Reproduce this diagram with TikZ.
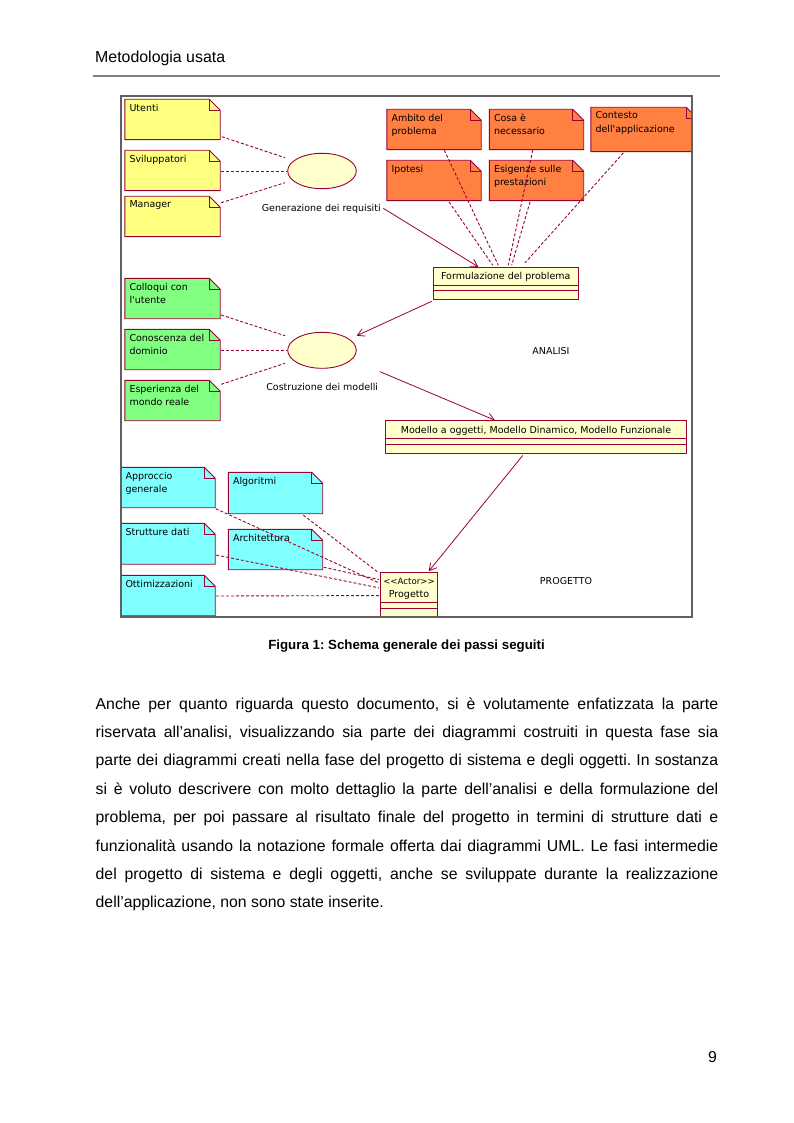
\documentclass[tikz,border=0pt]{standalone}
\usepackage{fontspec}
\setmainfont{Liberation Sans}
\newfontfamily\dgfont{DejaVu Sans}
\usetikzlibrary{arrows.meta,shapes.geometric}
\frenchspacing
\definecolor{border}{RGB}{153,0,51}
\definecolor{noteY}{RGB}{255,255,128}
\definecolor{noteO}{RGB}{255,128,64}
\definecolor{noteG}{RGB}{128,255,128}
\definecolor{noteC}{RGB}{128,255,255}
\definecolor{cls}{RGB}{255,255,204}
\definecolor{framec}{RGB}{96,96,96}
\tikzset{
  notebox/.style={rectangle, inner sep=0pt, draw=none},
  notetext/.style={anchor=north west, inner sep=0pt, align=left, font=\dgfont\fontsize{9.5}{13.3}\selectfont},
  dgtext/.style={inner sep=0pt, font=\dgfont\fontsize{9.5}{13.3}\selectfont},
  dep/.style={draw=border, line width=0.9pt, dash pattern=on 3pt off 2pt},
  assoc/.style={draw=border, line width=0.8pt, -{Straight Barb[length=7pt,width=8pt]}},
  usecase/.style={ellipse, draw=border, fill=cls, line width=0.9pt, inner sep=0pt},
  classbox/.style={rectangle, draw=border, fill=cls, line width=0.9pt, inner sep=0pt},
  bodyline/.style={anchor=base west, inner sep=0pt, font=\fontsize{15.8}{19}\selectfont},
}
% name, x1, y1, x2, y2, colour, text
\newcommand\mknote[7]{%
  \node[notebox, minimum width={(#4)-(#2)}, minimum height={(#5)-(#3)}] (#1) at ({((#2)+(#4))/2},{((#3)+(#5))/2}) {};
  \filldraw[fill=#6, draw=border, line width=0.9pt] (#1.north west) -- ([xshift=-11pt]#1.north east) -- ([yshift=-11pt]#1.north east) -- (#1.south east) -- (#1.south west) -- cycle;
  \draw[border, line width=0.9pt] ([xshift=-11pt]#1.north east) |- ([yshift=-11pt]#1.north east);
  \node[notetext] (#1-t) at ([shift={(4.5,4.3)}]#1.north west) {\rule{0pt}{7.2pt}#7};
}
\begin{document}
\begin{tikzpicture}[x=1pt,y=-1pt]
\useasboundingbox (0,0) rectangle (793,1123);
% header
\node[anchor=base west, inner sep=0pt, font=\fontsize{15.9}{19}\selectfont] (head) at (95,63) {Metodologia usata};
\draw[gray, line width=1.3pt] (93,76) -- (720,76);

\begin{scope}
\clip (121,96) rectangle (692,617);
\fill[white] (121,96) rectangle (692,617);
% yellow notes
\mknote{utenti}{125}{99.5}{220}{139.5}{noteY}{Utenti}
\mknote{svil}{125}{150.5}{220}{190.5}{noteY}{Sviluppatori}
\mknote{manager}{125}{196.5}{220}{236.5}{noteY}{Manager}
% orange notes
\mknote{ambito}{387}{109.5}{481}{149.5}{noteO}{Ambito del\\problema}
\mknote{cosa}{489.5}{109.5}{583.5}{149.5}{noteO}{Cosa è\\necessario}
\mknote{contesto}{591}{107.5}{697}{151.5}{noteO}{Contesto\\dell'applicazione}
\mknote{ipotesi}{387}{160.5}{481}{200.5}{noteO}{Ipotesi}
\mknote{esig}{489.5}{160.5}{583.5}{200.5}{noteO}{Esigenze sulle\\prestazioni}
% green notes
\mknote{colloqui}{125}{278.5}{220}{318.5}{noteG}{Colloqui con\\l'utente}
\mknote{conosc}{125}{329.5}{220}{369.5}{noteG}{Conoscenza del\\dominio}
\mknote{esper}{125}{380.5}{220}{420.5}{noteG}{Esperienza del\\mondo reale}
% cyan notes
\mknote{approccio}{121}{467.5}{215}{507.5}{noteC}{Approccio\\generale}
\mknote{strutture}{121}{523.5}{215}{564}{noteC}{Strutture dati}
\mknote{ottim}{121}{575.5}{215}{615.5}{noteC}{Ottimizzazioni}
\mknote{algo}{228.5}{472.5}{322.5}{513.5}{noteC}{Algoritmi}
\mknote{archit}{228.5}{529.5}{322.5}{569.5}{noteC}{Architettura}

% use cases
\node[usecase, minimum width=68.6pt, minimum height=35.4pt] (gen) at (322,171) {};
\node[dgtext, anchor=base] (gen-l) at (321.3,212) {Generazione dei requisiti};
\node[usecase, minimum width=68.6pt, minimum height=36pt] (cost) at (322,350.3) {};
\node[dgtext, anchor=base] (cost-l) at (322.2,390.7) {Costruzione dei modelli};

% class boxes
\node[classbox, minimum width=145pt, minimum height=32pt] (form) at (505.8,283.3) {};
\draw[border, line width=0.9pt] ([yshift=-18.4pt]form.north west) -- ([yshift=-18.4pt]form.north east);
\draw[border, line width=0.9pt] ([yshift=-24pt]form.north west) -- ([yshift=-24pt]form.north east);
\node[dgtext, anchor=base] (form-t) at ([yshift=-12.7pt]form.north) {Formulazione del problema};

\node[classbox, minimum width=301.4pt, minimum height=32.6pt] (modello) at (536,437) {};
\draw[border, line width=0.9pt] ([yshift=-18.3pt]modello.north west) -- ([yshift=-18.3pt]modello.north east);
\draw[border, line width=0.9pt] ([yshift=-24.6pt]modello.north west) -- ([yshift=-24.6pt]modello.north east);
\node[dgtext, anchor=base] (modello-t) at ([yshift=-13.3pt]modello.north) {Modello a oggetti, Modello Dinamico, Modello Funzionale};

\node[classbox, minimum width=57.4pt, minimum height=52pt] (prog) at (409,598.3) {};
\draw[border, line width=0.9pt] ([yshift=-31pt]prog.north west) -- ([yshift=-31pt]prog.north east);
\draw[border, line width=0.9pt] ([yshift=-37pt]prog.north west) -- ([yshift=-37pt]prog.north east);
\node[dgtext, anchor=base, font=\dgfont\fontsize{8.6}{12}\selectfont] (prog-t) at ([yshift=-12.2pt]prog.north) {<<Actor>>};
\node[dgtext, anchor=base] (prog-n) at ([yshift=-26pt]prog.north) {Progetto};

\node[dgtext, anchor=base] (analisi) at (551,354.5) {ANALISI};
\node[dgtext, anchor=base] (progetto) at (566,584.5) {PROGETTO};

% dependencies
\draw[dep] ([shift={(1.7,17.2)}]utenti.east) -- ([shift={(-37,-13.3)}]gen.center);
\draw[dep] ([shift={(1,0.5)}]svil.east) -- ([shift={(-35.3,0)}]gen.center);
\draw[dep] ([shift={(1,-13.8)}]manager.east) -- ([shift={(-37,11.7)}]gen.center);

\draw[dep] ([shift={(1,16.5)}]colloqui.east) -- ([shift={(-37,-14.6)}]cost.center);
\draw[dep] ([shift={(1,0.8)}]conosc.east) -- ([shift={(-35.3,0)}]cost.center);
\draw[dep] ([shift={(1,-16.2)}]esper.east) -- ([shift={(-37,13)}]cost.center);

\draw[dep] ([shift={(10.3,0.5)}]ambito.south) -- ([shift={(-7.5,-1.6)}]form.north);
\draw[dep] ([shift={(15,1.2)}]ipotesi.south) -- ([shift={(-13.1,-1.6)}]form.north);
\draw[dep] ([shift={(-3.8,0.5)}]cosa.south) -- ([shift={(2.5,-1.6)}]form.north);
\draw[dep] ([shift={(-6.5,1.2)}]esig.south) -- ([shift={(5.9,-1.6)}]form.north);
\draw[dep] ([shift={(-20.7,1.2)}]contesto.south) -- ([shift={(19.2,-4)}]form.north);

\draw[dep] ([shift={(0.5,1)}]approccio.south east) -- ([shift={(-1,11)}]prog.north west);
\draw[dep] ([shift={(27.8,1.5)}]algo.south) -- ([shift={(-1,1)}]prog.north west);
\draw[dep] ([shift={(1,11.25)}]strutture.east) -- ([shift={(-1,16)}]prog.north west);
\draw[dep] ([shift={(1,-2.5)}]archit.south east) -- ([shift={(-1,7.7)}]prog.north west);
\draw[dep] ([shift={(1,0.5)}]ottim.east) -- ([shift={(-1,23.7)}]prog.north west);

% associations
\draw[assoc] ([shift={(61.3,37.3)}]gen.center) -- ([shift={(-27.5,0)}]form.north);
\draw[assoc] ([shift={(-1,1.5)}]form.south west) -- ([shift={(34.7,-14.6)}]cost.center);
\draw[assoc] ([shift={(58,21.4)}]cost.center) -- ([shift={(-41,0)}]modello.north);
\draw[assoc] ([shift={(-13.3,1.7)}]modello.south) -- ([shift={(-9.4,-0.6)}]prog.north east);
\end{scope}
\draw[framec, line width=1.2pt] (121,96) rectangle (692,617);

% caption
\node[anchor=base, inner sep=0pt, font=\bfseries\fontsize{13.3}{16}\selectfont] (cap) at (406.5,649) {Figura 1: Schema generale dei passi seguiti};

% body text
\node[bodyline] (l1) at (95.5,709) {\hbox to 622.5pt{Anche per quanto riguarda questo documento, si è volutamente enfatizzata la parte}};
\node[bodyline] (l2) at (95.5,737.4) {\hbox to 622.5pt{riservata all’analisi, visualizzando sia parte dei diagrammi costruiti in questa fase sia}};
\node[bodyline] (l3) at (95.5,765.8) {\hbox to 622.5pt{parte dei diagrammi creati nella fase del progetto di sistema e degli oggetti. In sostanza}};
\node[bodyline] (l4) at (95.5,794.2) {\hbox to 622.5pt{si è voluto descrivere con molto dettaglio la parte dell’analisi e della formulazione del}};
\node[bodyline] (l5) at (95.5,822.6) {\hbox to 622.5pt{problema, per poi passare al risultato finale del progetto in termini di strutture dati e}};
\node[bodyline] (l6) at (95.5,851) {\hbox to 622.5pt{funzionalità usando la notazione formale offerta dai diagrammi UML. Le fasi intermedie}};
\node[bodyline] (l7) at (95.5,879.4) {\hbox to 622.5pt{del progetto di sistema e degli oggetti, anche se sviluppate durante la realizzazione}};
\node[bodyline] (l8) at (95.5,907.8) {dell’applicazione, non sono state inserite.};

\node[anchor=base east, inner sep=0pt, font=\fontsize{15.8}{19}\selectfont] (pg) at (717,1062) {9};
\end{tikzpicture}
\end{document}
